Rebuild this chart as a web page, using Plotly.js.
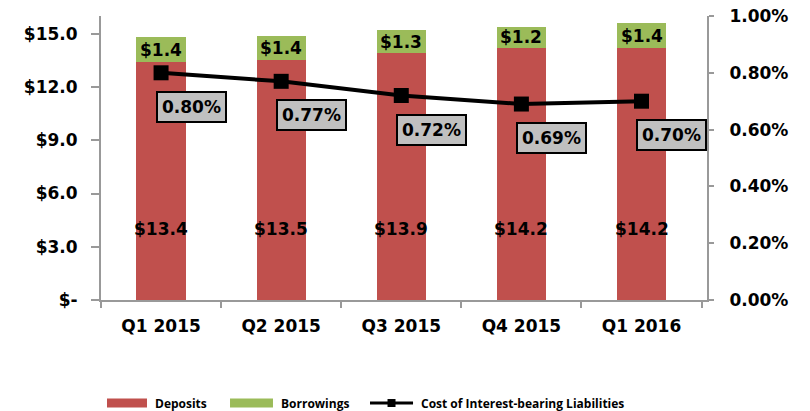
<!DOCTYPE html>
<html><head><meta charset="utf-8">
<script src="https://cdn.plot.ly/plotly-3.0.1.min.js"></script>
<style>body{margin:0;background:#fff}#chart{width:810px;height:411px}</style>
</head><body><div id="chart"></div>
<script>
const categories = ["Q1 2015","Q2 2015","Q3 2015","Q4 2015","Q1 2016"];
const deposits = [13.4,13.5,13.9,14.2,14.2];
const borrowings = [1.4,1.4,1.3,1.2,1.4];
const costPct = [0.80,0.77,0.72,0.69,0.70];
const leftTickVals = [0,3,6,9,12,15];
const leftTickText = ["$-","$3.0","$6.0","$9.0","$12.0","$15.0"];
const seriesNames = ["Deposits","Borrowings","Cost of Interest-bearing Liabilities"];

const F = "DejaVu Sans, Verdana, sans-serif";
const LF = "Open Sans, sans-serif";
const red = "#c0504d", green = "#9bbb59";

const traces = [
  {type:"bar", name:seriesNames[0], x:categories, y:deposits, marker:{color:red}, width:0.41, hoverinfo:"none", showlegend:false},
  {type:"bar", name:seriesNames[1], x:categories, y:borrowings, marker:{color:green}, width:0.41, hoverinfo:"none", showlegend:false},
  {type:"scatter", mode:"lines+markers", name:seriesNames[2], x:categories, y:costPct.map(v=>v/100), yaxis:"y2",
   line:{color:"#000", width:4}, marker:{symbol:"square", size:15, color:"#000"}, hoverinfo:"none", showlegend:false}
];

const annotations = [];
categories.forEach((c,i)=>{
  annotations.push({x:c, y:4.0, xref:"x", yref:"y", text:"$"+deposits[i].toFixed(1), showarrow:false,
    font:{family:F, size:17, color:"#000", weight:"bold"}});
  annotations.push({x:c, y:deposits[i]+borrowings[i]/2, xref:"x", yref:"y", text:"$"+borrowings[i].toFixed(1), showarrow:false,
    font:{family:F, size:17, color:"#000", weight:"bold"}});
  annotations.push({x:c, y:costPct[i]/100, xref:"x", yref:"y2", text:costPct[i].toFixed(2)+"%", showarrow:false,
    xshift:30, yshift:-34, bgcolor:"#c0c0c0", bordercolor:"#000", borderwidth:2, borderpad:4,
    font:{family:F, size:17, color:"#000", weight:"bold"}});
});

// manual legend (paper coordinates)
const legY = -0.3627, legH = 0.016;
const legItems = [
  {kind:"bar", color:red, x0:0.0099, x1:0.0759, tx:0.0858},
  {kind:"bar", color:green, x0:0.2129, x1:0.2838, tx:0.2937},
  {kind:"line", color:"#000", x0:0.4439, x1:0.5149, tx:0.5248}
];
const shapes = [];
legItems.forEach((it,i)=>{
  if(it.kind==="bar"){
    shapes.push({type:"rect", xref:"paper", yref:"paper", x0:it.x0, x1:it.x1, y0:legY-legH, y1:legY+legH,
      fillcolor:it.color, line:{width:0}});
  } else {
    shapes.push({type:"line", xref:"paper", yref:"paper", x0:it.x0, x1:it.x1, y0:legY, y1:legY, line:{color:"#000", width:3}});
    const cx=(it.x0+it.x1)/2;
    shapes.push({type:"rect", xref:"paper", yref:"paper", x0:cx-0.0066, x1:cx+0.0066, y0:legY-0.014, y1:legY+0.014,
      fillcolor:"#000", line:{width:0}});
  }
  annotations.push({xref:"paper", yref:"paper", x:it.tx, y:legY, xanchor:"left", yanchor:"middle", showarrow:false,
    text:seriesNames[i], font:{family:LF, size:12, color:"#000", weight:"bold"}});
});

const layout = {
  width:810, height:411, barmode:"stack", showlegend:false,
  paper_bgcolor:"#fff", plot_bgcolor:"#fff",
  margin:{l:101, r:103, t:16, b:111},
  font:{family:F, color:"#000"},
  xaxis:{type:"category", showline:true, linecolor:"#999", linewidth:2, ticks:"outside", tickson:"boundaries",
    ticklen:6, tickcolor:"#999", tickwidth:2, ticklabelstandoff:10,
    tickfont:{family:F, size:17, color:"#000", weight:"bold"}, showgrid:false},
  yaxis:{range:[0,16], tickvals:leftTickVals, ticktext:leftTickText, showline:true, linecolor:"#999", linewidth:2,
    ticks:"outside", ticklen:8, tickcolor:"#999", tickwidth:2, showgrid:false, zeroline:false,
    ticklabelstandoff:10, tickfont:{family:F, size:17, color:"#000", weight:"bold"}},
  yaxis2:{range:[0,0.01], overlaying:"y", side:"right", tickformat:".2%", dtick:0.002, showline:true, linecolor:"#999",
    linewidth:2, ticks:"outside", ticklen:5, tickcolor:"#999", tickwidth:2, showgrid:false, zeroline:false,
    ticklabelstandoff:12, tickfont:{family:F, size:17, color:"#000", weight:"bold"}},
  shapes:shapes,
  annotations:annotations
};
Plotly.newPlot("chart", traces, layout, {staticPlot:true});
</script></body></html>
